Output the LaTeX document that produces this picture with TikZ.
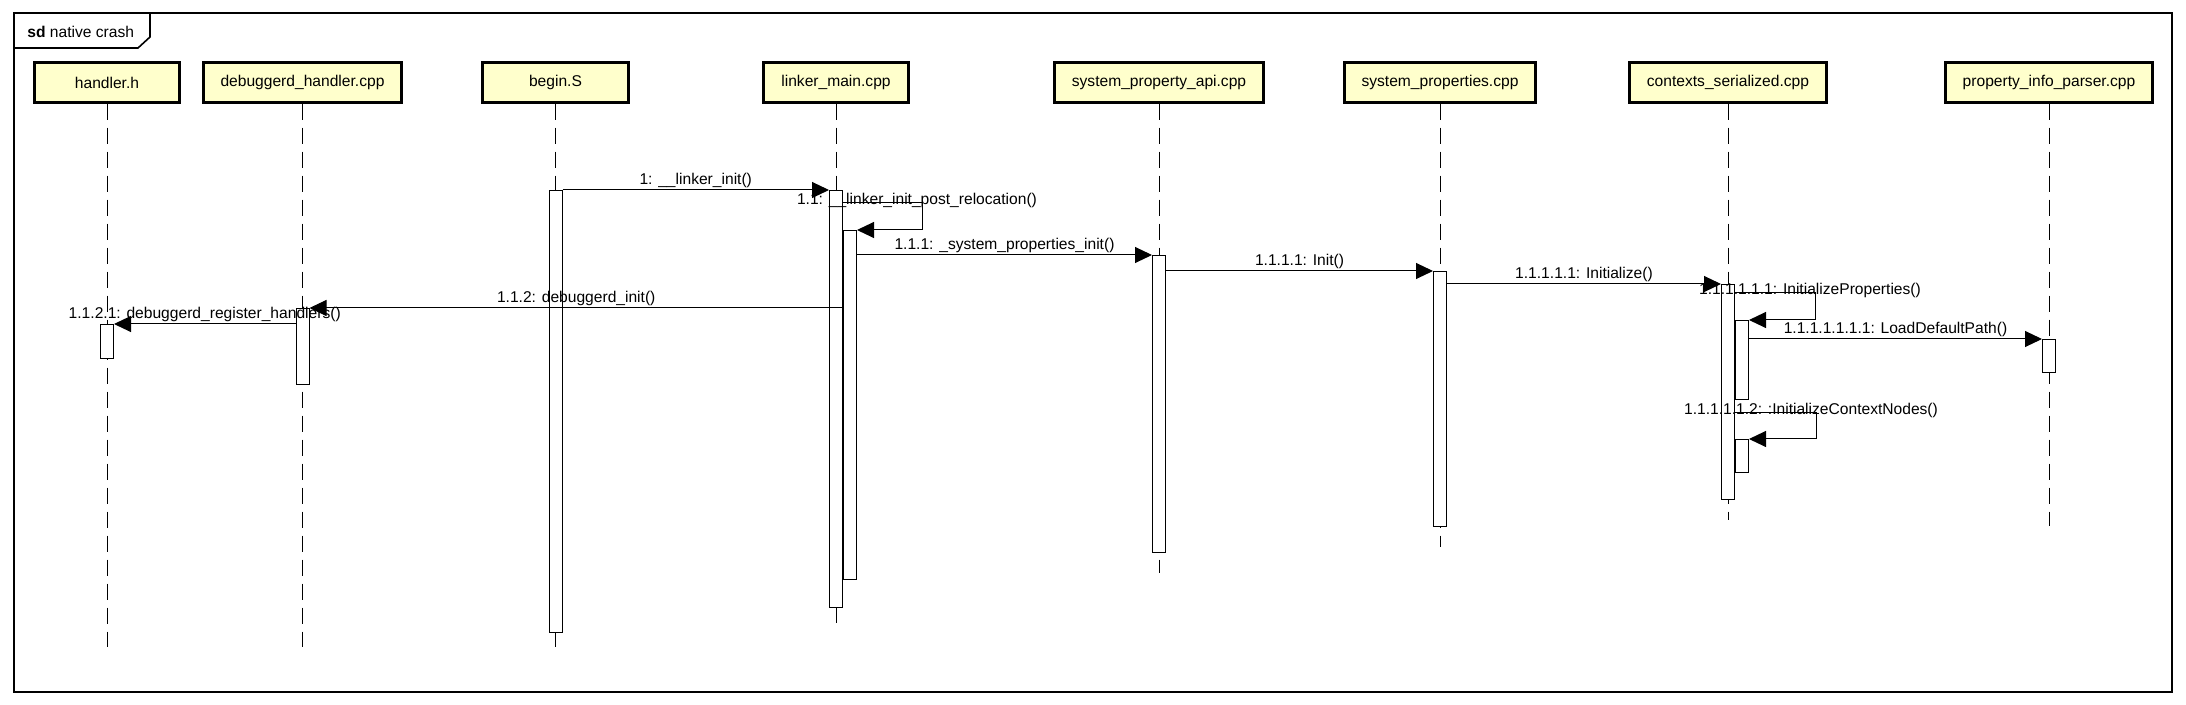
\documentclass[tikz,border=0pt]{standalone}
\usepackage{fontspec}
\setmainfont{Liberation Sans}
\usepackage{tikz}
\usetikzlibrary{arrows.meta, positioning, calc}
\definecolor{objyellow}{RGB}{255,255,204}

\begin{document}
\begin{tikzpicture}[x=0.5pt, y=-0.5pt,
  every node/.style={font=\fontsize{7.8pt}{9pt}\selectfont},
  obj/.style={draw, line width=1.5pt, fill=objyellow, minimum width=72.75pt, minimum height=19.75pt, inner xsep=8.75pt},
  life/.style={line width=0.45pt, dash pattern=on 8.3pt off 3.7pt},
  act/.style={draw, line width=0.5pt, fill=white, minimum width=6.5pt, inner sep=0pt, anchor=north},
  msg/.style={line width=0.5pt, -{Triangle[length=8.5pt, width=8pt]}},
  lbl/.style={above=0.8pt, inner sep=0pt},
  slbl/.style={inner sep=0pt, xshift=-2.5pt, yshift=1.3pt}]
\useasboundingbox (0,0) rectangle (2186,705);
\draw[line width=0.8pt] (14,13) rectangle (2172,692);
\draw[line width=0.8pt] (14,48) -- (138,48) -- (150,37) -- (150,13);
\node[anchor=west, inner sep=0pt] (Title) at (27,32) {\textbf{sd} native crash};

\node[obj] (Handler) at (107,82.5) {handler.h};
\node[obj] (Debuggerd) at (302.5,82.5) {debuggerd\_handler.cpp};
\node[obj] (Begin) at (555.5,82.5) {begin.S};
\node[obj] (Linker) at (836,82.5) {linker\_main.cpp};
\node[obj] (PropApi) at (1159,82.5) {system\_property\_api.cpp};
\node[obj] (SysProps) at (1440,82.5) {system\_properties.cpp};
\node[obj] (Contexts) at (1728,82.5) {contexts\_serialized.cpp};
\node[obj] (Parser) at (2049,82.5) {property\_info\_parser.cpp};

\draw[life] (Handler.south) -- ++(0,543);
\draw[life] (Debuggerd.south) -- ++(0,543);
\draw[life] (Begin.south) -- ++(0,543);
\draw[life] (Linker.south) -- ++(0,519);
\draw[life] (PropApi.south) -- ++(0,469);
\draw[life] (SysProps.south) -- ++(0,443);
\draw[life] (Contexts.south) -- ++(0,416);
\draw[life] (Parser.south) -- ++(0,422);

\node[act, minimum height=17pt] (HandlerA) at (Handler.south |- 0,324) {};
\node[act, minimum height=38pt] (DebuggerdA) at (Debuggerd.south |- 0,308) {};
\node[act, minimum height=221pt] (BeginA) at (Begin.south |- 0,190) {};
\node[act, minimum height=208.5pt] (LinkerA) at (Linker.south |- 0,190) {};
\node[act, anchor=north west, minimum height=174.5pt] (LinkerB) at (LinkerA.east |- 0,230) {};
\node[act, minimum height=148.5pt] (PropApiA) at (PropApi.south |- 0,255) {};
\node[act, minimum height=127.5pt] (SysPropsA) at (SysProps.south |- 0,271) {};
\node[act, minimum height=107.5pt] (ContextsA) at (Contexts.south |- 0,284) {};
\node[act, anchor=north west, minimum height=39.5pt] (ContextsB) at (ContextsA.east |- 0,320) {};
\node[act, anchor=north west, minimum height=16.5pt] (ContextsC) at (ContextsA.east |- 0,439) {};
\node[act, minimum height=16.5pt] (ParserA) at (Parser.south |- 0,339) {};

\coordinate (s1) at (0,203);
\coordinate (s2) at (0,293);
\coordinate (s3) at (0,413);

\draw[msg] (BeginA.north east) -- (LinkerA.north west) node[midway, lbl] {1: \_\_linker\_init()};
\draw[msg] (LinkerA.east |- s1) -- ++(79,0) node[slbl] {1.1: \_\_linker\_init\_post\_relocation()} |- (LinkerB.north east);
\draw[msg] (LinkerB.east |- PropApiA.north) -- (PropApiA.north west) node[midway, lbl] {1.1.1: \_system\_properties\_init()};
\draw[msg] (PropApiA.east |- SysPropsA.north) -- (SysPropsA.north west) node[midway, lbl] {1.1.1.1: Init()};
\draw[msg] (SysPropsA.east |- ContextsA.north) -- (ContextsA.north west) node[midway, lbl] {1.1.1.1.1: Initialize()};
\draw[msg] (ContextsA.east |- s2) -- ++(80,0) node[slbl] {1.1.1.1.1.1: InitializeProperties()} |- (ContextsB.north east);
\draw[msg] (ContextsB.east |- ParserA.north) -- (ParserA.north west) node[midway, lbl] {1.1.1.1.1.1.1: LoadDefaultPath()};
\draw[msg] (ContextsA.east |- s3) -- ++(81,0) node[slbl] {1.1.1.1.1.2: :InitializeContextNodes()} |- (ContextsC.north east);
\draw[msg] (LinkerA.east |- DebuggerdA.north) -- (DebuggerdA.north east) node[midway, lbl] {1.1.2: debuggerd\_init()};
\draw[msg] (DebuggerdA.west |- HandlerA.north) -- (HandlerA.north east) node[midway, lbl] {1.1.2.1: debuggerd\_register\_handlers()};
\end{tikzpicture}
\end{document}
